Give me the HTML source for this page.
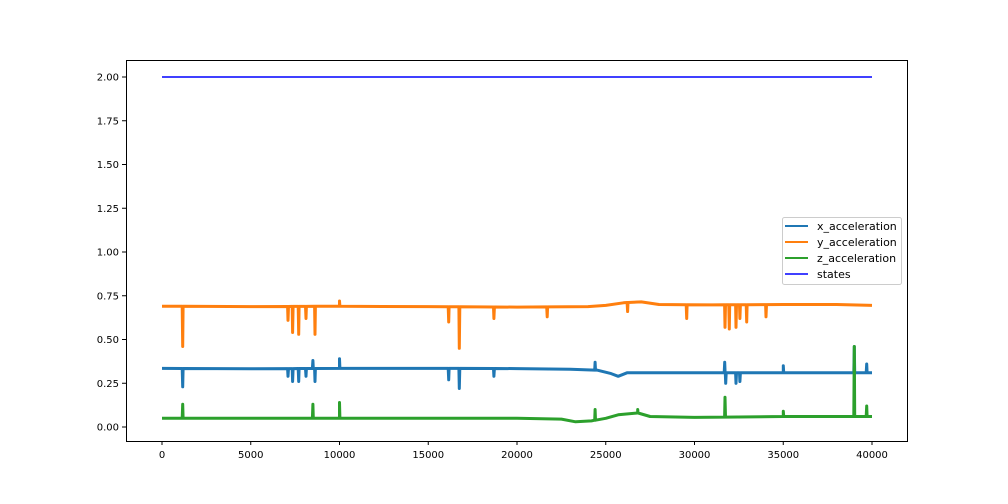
<!DOCTYPE html>
<html><head><meta charset="utf-8"><style>
body{margin:0;background:#fff;}
svg{display:block;font-family:"DejaVu Sans","Liberation Sans",sans-serif;}
</style></head><body>
<svg id="chart" width="1008" height="504"></svg>
<script>
const categoriesX = [0, 40000];
const xTicks = [0,5000,10000,15000,20000,25000,30000,35000,40000];
const yTicks = [0,0.25,0.5,0.75,1,1.25,1.5,1.75,2];
const yTickLabels = ["0.00","0.25","0.50","0.75","1.00","1.25","1.50","1.75","2.00"];
// baseline [x, value]
const xBase = [[0,0.335],[5000,0.333],[10000,0.335],[15000,0.335],[20000,0.334],[23000,0.33],[24500,0.325],[25300,0.305],[25700,0.29],[26200,0.31],[30000,0.31],[35000,0.31],[40000,0.31]];
const yBase = [[0,0.69],[5000,0.688],[10000,0.69],[15000,0.688],[20000,0.685],[24000,0.688],[25000,0.695],[26000,0.71],[27000,0.715],[28000,0.70],[31000,0.698],[35000,0.70],[38000,0.70],[40000,0.695]];
const zBase = [[0,0.05],[10000,0.05],[20000,0.05],[22500,0.045],[23300,0.03],[24200,0.035],[25000,0.05],[25700,0.07],[26800,0.08],[27500,0.06],[30000,0.055],[35000,0.06],[38000,0.06],[40000,0.06]];
// spikes [x, value]
const xSpikes = [[1165,0.23],[7100,0.29],[7360,0.26],[7700,0.26],[8110,0.29],[8500,0.38],[8620,0.26],[10000,0.39],[16150,0.27],[16750,0.22],[18700,0.29],[24400,0.37],[31700,0.37],[31760,0.25],[32340,0.25],[32560,0.26],[35000,0.35],[39000,0.46],[39700,0.36]];
const ySpikes = [[1165,0.46],[7100,0.61],[7360,0.54],[7700,0.53],[8110,0.62],[8620,0.53],[10000,0.72],[16150,0.60],[16750,0.45],[18700,0.62],[21700,0.63],[26230,0.66],[29560,0.62],[31720,0.57],[31960,0.56],[32340,0.57],[32560,0.62],[32940,0.60],[34030,0.63]];
const zSpikes = [[1165,0.13],[8500,0.13],[10000,0.14],[24400,0.10],[26800,0.10],[31720,0.17],[35000,0.09],[39000,0.46],[39700,0.12]];
const statesX = [0, 40000];
const statesY = [2, 2];

const L=126,R=907,T=60,B=441;
const sx = v => 162 + (v-0)*(872-162)/40000;
const sy = v => 427 - v*(427-77)/2;
const NS="http://www.w3.org/2000/svg";
const svg=document.getElementById('chart');
function mk(tag,attrs,parent){const e=document.createElementNS(NS,tag);for(const k in attrs)e.setAttribute(k,attrs[k]);(parent||svg).appendChild(e);return e;}
function interp(base,x){for(let i=1;i<base.length;i++){if(x<=base[i][0]){const a=base[i-1],b=base[i];return a[1]+(b[1]-a[1])*(x-a[0])/(b[0]-a[0]);}}return base[base.length-1][1];}
function series(base,spikes,color,name){
  let pts=base.map(p=>[p[0],p[1]]);
  spikes.forEach(s=>{const b=interp(base,s[0]);pts.push([s[0]-25,b],[s[0],s[1]],[s[0]+25,b]);});
  pts.sort((a,b)=>a[0]-b[0]);
  const p=mk('polyline',{points:pts.map(q=>sx(q[0]).toFixed(1)+','+sy(q[1]).toFixed(1)).join(' '),fill:'none',stroke:color,'stroke-width':3,'stroke-linejoin':'round'});
  
  
}
series(yBase,ySpikes,'#ff7f0e','y-acceleration-line');
series(xBase,xSpikes,'#1f77b4','x-acceleration-line');
series(zBase,zSpikes,'#2ca02c','z-acceleration-line');
const st=mk('line',{x1:sx(statesX[0]),y1:sy(statesY[0]),x2:sx(statesX[1]),y2:sy(statesY[1]),stroke:'#0000ff','stroke-width':1.5});



const frame=mk('rect',{x:L+0.5,y:T+0.5,width:R-L,height:B-T,fill:'none',stroke:'#000','stroke-width':1});


xTicks.forEach(v=>{
  const x=sx(v);
  mk('line',{x1:x,y1:B,x2:x,y2:B+4,stroke:'#000'});
  const t=mk('text',{x:x,y:B+17,'text-anchor':'middle','font-size':10,fill:'#000'});
  t.textContent=v;
  
  
});
yTicks.forEach((v,i)=>{
  const y=sy(v);
  mk('line',{x1:L-4,y1:y,x2:L,y2:y,stroke:'#000'});
  const t=mk('text',{x:L-7,y:y+3.5,'text-anchor':'end','font-size':10,fill:'#000'});
  t.textContent=yTickLabels[i];
  
  
});
const lg=mk('g',{});


mk('rect',{x:782.5,y:217.5,width:119,height:67,rx:2,fill:'#fff',stroke:'#ccc'},lg);
[['x_acceleration','#1f77b4'],['y_acceleration','#ff7f0e'],['z_acceleration','#2ca02c'],['states','#0000ff']].forEach((e,i)=>{
  const y=226+i*16;
  const g=mk('g',{},lg);
  
  
  mk('line',{x1:785,y1:y,x2:808,y2:y,stroke:e[1],'stroke-width':i==3?1.5:2},g);
  const t=mk('text',{x:817,y:y+4,'font-size':11,fill:'#000'},g);
  t.textContent=e[0];
});
</script>
</body></html>
